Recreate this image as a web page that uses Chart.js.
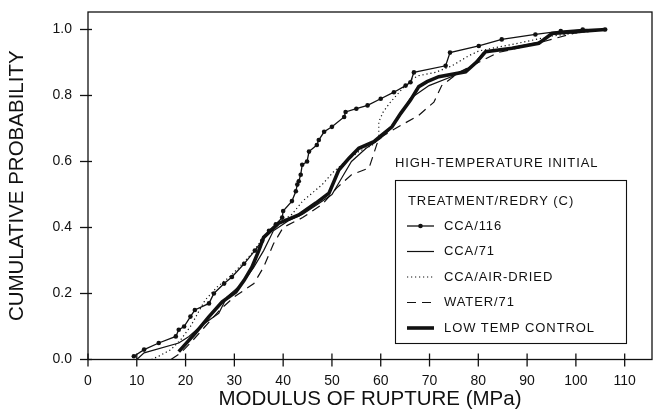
<!DOCTYPE html>
<html>
<head>
<meta charset="utf-8">
<script src="https://cdn.jsdelivr.net/npm/chart.js@4.4.1/dist/chart.umd.min.js"></script>
<style>
html,body{margin:0;padding:0;background:#fff;}
#wrap{width:656px;height:412px;position:relative;}
</style>
</head>
<body>
<div id="wrap"><canvas id="c" width="656" height="412"></canvas></div>
<script>
// ---- data ----
const xTicks = [0,10,20,30,40,50,60,70,80,90,100,110];
const yTicks = [0.0,0.2,0.4,0.6,0.8,1.0];
const seriesNames = ['CCA/116','CCA/71','CCA/AIR-DRIED','WATER/71','LOW TEMP CONTROL'];

const cca116X = [9.4,11.5,14.5,18,18.6,19.7,21,21.9,24.8,25.8,27.9,29.5,32,34.2,35.7,37.1,38.5,39.8,40,41.8,42.6,42.9,43.2,43.6,43.9,44.9,45.3,46.9,47.3,48.4,50,52.5,52.8,55,57.3,60,62.7,65.1,66.1,66.8,73.3,74.2,80.1,84.8,91.7,96.9,101.4,106];
const cca116Y = [0.01,0.03,0.05,0.07,0.09,0.10,0.13,0.15,0.17,0.20,0.23,0.25,0.29,0.33,0.36,0.39,0.41,0.43,0.45,0.48,0.51,0.53,0.54,0.56,0.59,0.60,0.63,0.65,0.665,0.69,0.705,0.735,0.75,0.76,0.77,0.79,0.81,0.83,0.84,0.87,0.89,0.93,0.95,0.97,0.985,0.995,1.0,1.0];

const cca71X = [10,11.5,18.6,20.7,23,26.8,28.5,31.6,34,36,38,41,44,47,50,52,54,57,60,62,64,66,69.9,75,78.8,81,87,92,96,106];
const cca71Y = [0.0,0.02,0.05,0.07,0.10,0.14,0.19,0.23,0.28,0.33,0.39,0.42,0.44,0.47,0.50,0.55,0.60,0.64,0.67,0.70,0.74,0.79,0.83,0.86,0.89,0.93,0.945,0.96,0.99,1.0];

const airX = [13,14.5,17,19,21,22.5,24,26.5,29,31,33.5,35.5,38,41.8,44,48,50.4,52.8,55.5,58.3,59.6,59.6,60.5,62,64.4,66.4,67.8,71.2,74.6,78,80.1,88,95,106];
const airY = [0.0,0.01,0.03,0.06,0.10,0.14,0.18,0.22,0.25,0.28,0.32,0.36,0.40,0.44,0.48,0.53,0.57,0.60,0.63,0.65,0.67,0.72,0.75,0.78,0.82,0.85,0.86,0.87,0.89,0.92,0.935,0.958,0.98,1.0];

const waterX = [17,19,21,24,27,30,34,36,38,40,44,48,51,54,57.6,59.6,63,67.8,70.9,72.5,76,80,84,90,95,100,106];
const waterY = [0.0,0.02,0.05,0.10,0.15,0.19,0.23,0.28,0.35,0.40,0.43,0.47,0.52,0.56,0.58,0.67,0.70,0.74,0.78,0.83,0.87,0.90,0.93,0.95,0.97,0.99,1.0];

const lowX = [18.6,22,24.8,27.5,30.3,32,33.6,35,36,39.1,43.2,46.7,49.4,50.4,51.4,53.5,55.5,58.6,60.2,62.3,64.1,66.1,67.8,69.5,71.9,77.4,79.7,81.5,86.9,92.4,95.1,106];
const lowY = [0.024,0.08,0.13,0.175,0.205,0.24,0.28,0.33,0.37,0.413,0.438,0.474,0.504,0.539,0.574,0.61,0.64,0.66,0.68,0.705,0.746,0.786,0.827,0.842,0.857,0.872,0.902,0.933,0.943,0.958,0.988,1.0];

// ---- build ----
const pts = (xs, ys) => xs.map((x, i) => ({x: x, y: ys[i]}));
const INK = '#111';
const styles = [
  {borderWidth:1.3, borderDash:[], pointRadius:2.3},
  {borderWidth:1.2, borderDash:[], pointRadius:0},
  {borderWidth:1.2, borderDash:[1.2,2.8], pointRadius:0},
  {borderWidth:1.2, borderDash:[9,6], pointRadius:0},
  {borderWidth:3.6, borderDash:[], pointRadius:0}
];
const allData = [pts(cca116X,cca116Y), pts(cca71X,cca71Y), pts(airX,airY), pts(waterX,waterY), pts(lowX,lowY)];
const datasets = allData.map((d, i) => ({
  label: seriesNames[i],
  data: d,
  borderColor: INK,
  backgroundColor: INK,
  pointBackgroundColor: INK,
  pointBorderWidth: 0,
  pointRadius: styles[i].pointRadius,
  borderWidth: styles[i].borderWidth,
  borderDash: styles[i].borderDash,
  tension: 0,
  fill: false
}));

const FONT = "'Liberation Sans', Arial, Helvetica, sans-serif";

const framePlugin = {
  id: 'frame',
  afterDraw(chart) {
    const ctx = chart.ctx;
    const a = chart.chartArea;
    const xs = chart.scales.x, ys = chart.scales.y;
    ctx.save();
    ctx.strokeStyle = INK;
    ctx.lineWidth = 1.3;
    ctx.setLineDash([]);
    ctx.strokeRect(a.left, a.top, a.right - a.left, a.bottom - a.top);
    xTicks.forEach(v => {
      const p = xs.getPixelForValue(v);
      ctx.beginPath(); ctx.moveTo(p, a.bottom - 6); ctx.lineTo(p, a.bottom + 7); ctx.stroke();
    });
    yTicks.forEach(v => {
      const p = ys.getPixelForValue(v);
      ctx.beginPath(); ctx.moveTo(a.left - 8, p); ctx.lineTo(a.left + 4, p); ctx.stroke();
    });
    // legend
    ctx.fillStyle = INK;
    ctx.textBaseline = 'middle';
    ctx.textAlign = 'left';
    ctx.font = '13px ' + FONT;
    try { ctx.letterSpacing = '0.9px'; } catch (e) {}
    ctx.fillText('HIGH-TEMPERATURE INITIAL', 395, 163);
    ctx.lineWidth = 1.1;
    ctx.strokeRect(395.5, 180.5, 231, 163);
    ctx.fillText('TREATMENT/REDRY (C)', 408, 201.5);
    const rows = [226, 251.5, 277, 302.5, 328];
    datasets.forEach((ds, i) => {
      const y = rows[i];
      ctx.save();
      ctx.lineWidth = ds.borderWidth;
      ctx.setLineDash(ds.borderDash);
      ctx.strokeStyle = INK;
      ctx.beginPath(); ctx.moveTo(407, y); ctx.lineTo(434, y); ctx.stroke();
      if (ds.pointRadius > 0) {
        ctx.beginPath(); ctx.arc(420.5, y, ds.pointRadius, 0, Math.PI * 2); ctx.fill();
      }
      ctx.restore();
      ctx.fillText(ds.label, 444, y);
    });
    ctx.restore();
  }
};

new Chart(document.getElementById('c'), {
  type: 'line',
  data: { datasets: datasets },
  options: {
    responsive: false,
    animation: false,
    devicePixelRatio: 1,
    layout: { padding: { left: 0, right: 3, top: 12, bottom: 0 } },
    plugins: { legend: { display: false }, tooltip: { enabled: false } },
    elements: { line: { borderCapStyle: 'butt' } },
    scales: {
      x: {
        type: 'linear', min: 0, max: 115.6,
        afterBuildTicks: s => { s.ticks = xTicks.map(v => ({value: v})); },
        afterFit: s => { s.height = 52.5; s.paddingLeft = 0; s.paddingRight = 0; },
        grid: { display: false, drawTicks: false },
        border: { display: false },
        ticks: { color: INK, font: { family: FONT, size: 14 }, padding: 13, maxRotation: 0, callback: v => String(v) },
        title: { display: true, text: 'MODULUS OF RUPTURE (MPa)', color: INK, font: { family: FONT, size: 20.5 }, padding: { top: 0, bottom: 0 } }
      },
      y: {
        type: 'linear', min: 0, max: 1.053,
        afterBuildTicks: s => { s.ticks = yTicks.map(v => ({value: v})); },
        afterFit: s => { s.width = 88; s.paddingTop = 0; s.paddingBottom = 0; },
        grid: { display: false, drawTicks: false },
        border: { display: false },
        ticks: { color: INK, font: { family: FONT, size: 14 }, padding: 16, callback: v => Number(v).toFixed(1) },
        title: { display: true, text: 'CUMULATIVE PROBABILITY', color: INK, font: { family: FONT, size: 20.5 }, padding: { top: 5, bottom: 0 } }
      }
    }
  },
  plugins: [framePlugin]
});
</script>
</body>
</html>
